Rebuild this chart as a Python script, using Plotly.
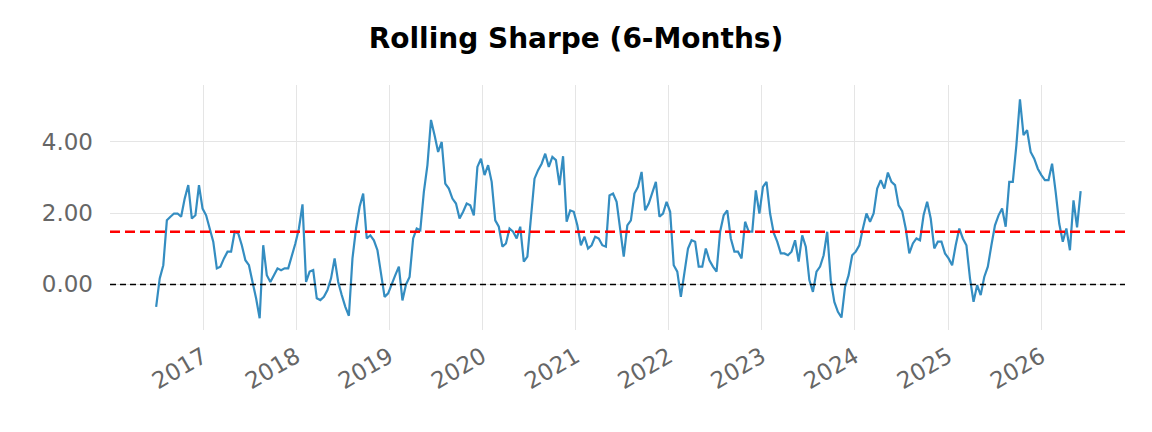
import pandas as pd
import plotly.graph_objects as go

# ---- data ----
start_date = "2016-07-01"
step = "14D"
sharpe_values = [
    -0.63, 0.17, 0.54, 1.80, 1.90, 1.99, 1.99, 1.90, 2.41, 2.79,
    1.85, 1.94, 2.79, 2.13, 1.94, 1.57, 1.20, 0.45, 0.50, 0.73,
    0.92, 0.92, 1.48, 1.43, 1.10, 0.68, 0.54, 0.07, -0.39, -0.95,
    1.10, 0.26, 0.07, 0.26, 0.45, 0.40, 0.45, 0.45, 0.78, 1.15,
    1.57, 2.25, 0.07, 0.36, 0.40, -0.39, -0.44, -0.35, -0.16, 0.17,
    0.73, 0.07, -0.30, -0.63, -0.88, 0.73, 1.57, 2.18, 2.55, 1.29,
    1.38, 1.24, 0.96, 0.36, -0.35, -0.25, -0.02, 0.26, 0.50, -0.45,
    0.00, 0.21, 1.29, 1.57, 1.52, 2.60, 3.35, 4.62, 4.19, 3.72,
    4.00, 2.83, 2.69, 2.41, 2.27, 1.85, 2.04, 2.27, 2.22, 1.94,
    3.30, 3.53, 3.07, 3.35, 2.88, 1.80, 1.62, 1.06, 1.15, 1.57,
    1.48, 1.29, 1.62, 0.64, 0.78, 1.94, 2.97, 3.21, 3.39, 3.67,
    3.30, 3.58, 3.49, 2.79, 3.60, 1.76, 2.08, 2.04, 1.66, 1.10,
    1.34, 1.01, 1.10, 1.34, 1.29, 1.10, 1.06, 2.50, 2.55, 2.32,
    1.48, 0.78, 1.66, 1.80, 2.55, 2.74, 3.16, 2.08, 2.27, 2.60,
    2.88, 1.90, 1.99, 2.32, 2.04, 0.54, 0.36, -0.35, 0.31, 1.01,
    1.24, 1.20, 0.50, 0.50, 1.01, 0.68, 0.50, 0.36, 1.48, 1.94,
    2.08, 1.29, 0.92, 0.92, 0.73, 1.76, 1.48, 1.48, 2.64, 1.99,
    2.74, 2.88, 1.99, 1.45, 1.20, 0.87, 0.87, 0.82, 0.92, 1.24,
    0.64, 1.38, 1.06, 0.12, -0.21, 0.36, 0.50, 0.82, 1.48, 0.12,
    -0.49, -0.77, -0.93, -0.07, 0.26, 0.82, 0.92, 1.10, 1.57, 1.99,
    1.76, 1.99, 2.69, 2.93, 2.69, 3.14, 2.88, 2.79, 2.22, 2.06,
    1.57, 0.87, 1.15, 1.29, 1.24, 1.94, 2.32, 1.85, 1.01, 1.20,
    1.20, 0.87, 0.73, 0.54, 1.10, 1.57, 1.29, 1.10, 0.17, -0.49,
    -0.02, -0.30, 0.21, 0.50, 1.10, 1.66, 1.94, 2.13, 1.62, 2.88,
    2.88, 3.91, 5.20, 4.19, 4.33, 3.72, 3.53, 3.25, 3.07, 2.93,
    2.93, 3.39, 2.60, 1.71, 1.20, 1.57, 0.96, 2.36, 1.60, 2.62,
]
mean_sharpe = 1.48
zero_level = 0.0
y_tick_values = [0, 2, 4]
y_tick_labels = ["0.00", "2.00", "4.00"]
x_tick_years = ["2017", "2018", "2019", "2020", "2021", "2022", "2023", "2024", "2025", "2026"]
x_range = ["2016-01-02", "2026-11-26"]
y_range = [-1.28, 5.6]

dates = pd.date_range(start=start_date, periods=len(sharpe_values), freq=step)

fig = go.Figure()
fig.add_trace(go.Scatter(
    x=dates, y=sharpe_values, mode="lines",
    line=dict(color="#348dc1", width=2.2),
    showlegend=False, hoverinfo="skip",
))

fig.add_hline(y=mean_sharpe, line=dict(color="#ff0000", width=2.5, dash="10px,5px"))
fig.add_hline(y=zero_level, line=dict(color="#000000", width=1.5, dash="6px,4px"))

tick_font = dict(family="DejaVu Sans", size=23, color="#666666")

fig.update_layout(
    width=1152, height=432,
    margin=dict(l=110, r=27, t=85, b=102),
    paper_bgcolor="white", plot_bgcolor="white",
    title=dict(
        text="<b>Rolling Sharpe (6-Months)</b>",
        font=dict(family="DejaVu Sans", size=28, color="black"),
        x=0.5, xref="container", xanchor="center",
        y=1 - 38 / 432, yref="container", yanchor="middle",
    ),
    xaxis=dict(
        range=x_range,
        tickmode="array",
        tickvals=[f"{y}-01-01" for y in x_tick_years],
        ticktext=x_tick_years,
        tickangle=-30,
        tickfont=tick_font,
        showgrid=True, gridcolor="#e5e5e5", gridwidth=1,
        zeroline=False, showline=False, ticks="",
        ticklabelstandoff=8,
    ),
    yaxis=dict(
        range=y_range,
        tickmode="array",
        tickvals=y_tick_values,
        ticktext=y_tick_labels,
        tickfont=tick_font,
        showgrid=True, gridcolor="#e5e5e5", gridwidth=1,
        zeroline=False, showline=False, ticks="",
        ticklabelstandoff=16,
    ),
)

fig.write_html("out.html")
